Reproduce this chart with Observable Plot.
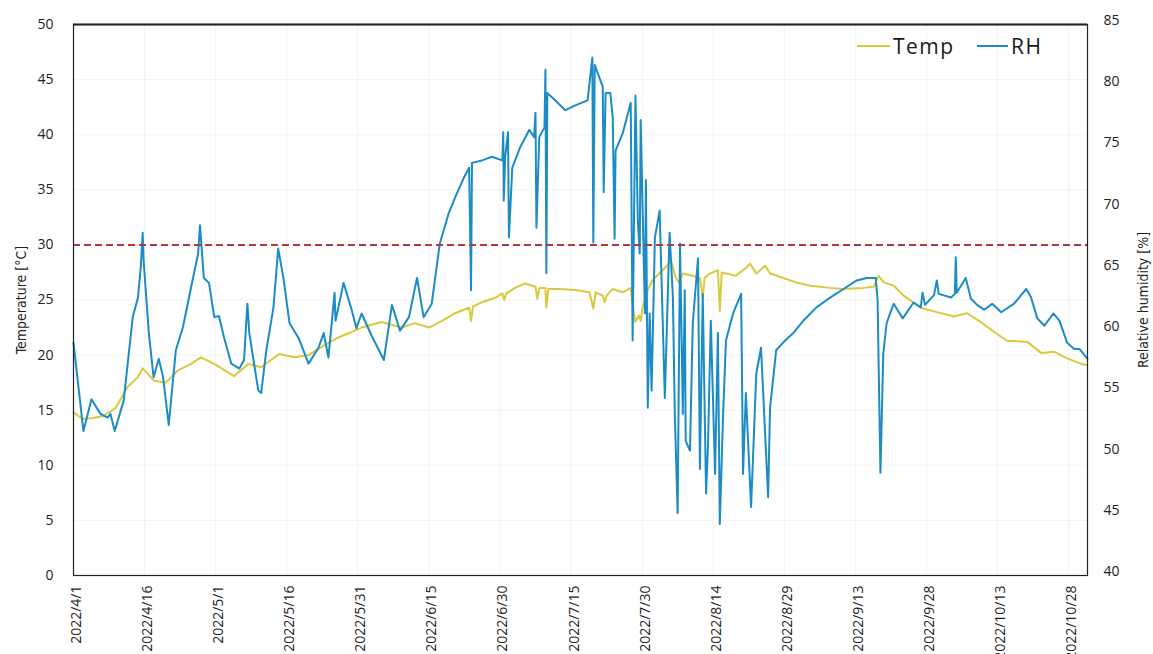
<!DOCTYPE html>
<html><head><meta charset="utf-8">
<script src="https://cdn.jsdelivr.net/npm/d3@7"></script>
<script src="https://cdn.jsdelivr.net/npm/@observablehq/plot@0.6"></script>
<style>
body{margin:0;background:#fff;}
#wrap{position:relative;width:1153px;height:654px;overflow:hidden;}
.lg{position:absolute;font-family:"Open Sans",sans-serif;font-size:21px;line-height:21px;color:#1a1a1a;letter-spacing:1.5px;white-space:nowrap;}
.ll{position:absolute;height:2px;}
</style></head><body><div id="wrap"></div>
<script>
// ---- data ----
const startDate = "2022-04-01";
const endDate = "2022-11-01";
const xTickLabels = ["2022/4/1","2022/4/16","2022/5/1","2022/5/16","2022/5/31","2022/6/15","2022/6/30","2022/7/15","2022/7/30","2022/8/14","2022/8/29","2022/9/13","2022/9/28","2022/10/13","2022/10/28"];
const tempTicks = [0,5,10,15,20,25,30,35,40,45,50];
const rhTicks = [40,45,50,55,60,65,70,75,80,85];
const refLine = 30; // dashed threshold on the temperature axis
const seriesNames = ["Temp","RH"];

// days since 2022-04-01 / temperature °C
const tDay = [0,1.9,4.2,6.4,8.9,11.4,13.6,14.6,15.7,16.9,19.5,22.0,24.8,26.9,29.7,33.9,36.9,39.6,43.4,46.6,49.6,53.0,55.9,58.7,60.8,65.0,69.3,72.0,75.0,77.8,80.5,83.5,83.9,84.3,86.2,89.0,90.5,90.9,91.3,93.2,95.3,97.5,97.9,98.3,99.6,99.8,100.2,102.5,105.9,108.9,109.7,110.2,111.7,112.1,112.5,113.8,115.9,117.6,118.2,118.6,119.3,119.7,120.1,121.2,122.2,124.8,126.1,127.1,127.8,128.6,130.7,132.2,132.8,133.2,134.3,136.0,136.4,136.8,139.8,141.9,142.8,144.1,146.0,147.0,149.8,152.5,155.5,159.7,162.5,166.7,168.9,169.9,171.0,173.1,175.2,178.8,182.2,185.8,188.6,191.5,194.3,197.0,201.3,204.2,207.0,209.7,212.7,214.0];
const tVal = [14.8,14.2,14.3,14.5,15.2,17.1,18.0,18.8,18.3,17.7,17.5,18.6,19.2,19.8,19.2,18.1,19.2,18.9,20.1,19.8,20.0,20.9,21.6,22.1,22.5,23.0,22.5,22.9,22.5,23.1,23.8,24.3,23.1,24.4,24.8,25.2,25.6,25.0,25.6,26.1,26.5,26.2,25.1,26.1,26.1,24.3,26.0,26.0,25.9,25.7,24.2,25.7,25.4,24.8,25.4,26.0,25.7,26.1,24.0,23.0,23.6,23.1,24.3,25.9,26.8,27.9,28.6,27.0,26.6,27.4,27.2,27.0,25.2,27.0,27.4,27.7,24.0,27.5,27.2,27.9,28.3,27.4,28.1,27.4,27.0,26.6,26.3,26.1,26.0,26.1,26.2,27.2,26.6,26.3,25.4,24.3,23.9,23.5,23.8,23.0,22.1,21.3,21.2,20.2,20.3,19.7,19.2,19.1];

// days since 2022-04-01 / relative humidity %
const rhDay = [0,2.1,3.8,5.7,7.2,7.8,8.7,10.6,12.5,13.6,14.2,14.6,14.8,15.9,16.9,18.0,18.9,20.1,21.6,23.1,24.8,26.3,26.7,27.5,28.6,29.7,30.7,31.8,33.3,35.0,36.0,36.7,37.1,39.0,39.6,40.7,42.2,43.2,44.3,45.6,47.5,49.6,51.7,52.8,53.8,55.1,55.3,57.0,58.7,59.7,60.8,62.9,65.5,67.2,68.9,70.8,72.5,73.9,75.6,77.3,79.2,80.9,82.4,83.5,83.9,84.1,86.2,88.3,90.5,90.7,90.8,91.1,91.7,91.9,92.6,94.3,96.2,97.2,97.5,97.7,98.3,99.4,99.6,99.8,100.0,101.7,103.8,105.9,108.5,109.5,109.7,110.0,111.7,111.9,112.3,113.3,113.8,114.2,114.4,115.9,117.6,118.0,118.6,119.1,119.5,119.7,120.6,120.8,121.2,121.6,122.0,122.7,123.7,124.8,125.8,126.5,126.9,127.5,128.0,128.6,129.0,129.2,130.1,130.7,131.8,132.2,132.8,133.5,133.9,134.5,135.4,136.0,136.4,137.1,137.7,139.2,140.9,141.3,141.9,143.0,144.1,145.1,146.6,147.0,148.3,150.2,151.9,154.0,156.8,159.7,162.5,165.3,167.4,169.3,169.7,170.3,170.9,171.6,173.1,175.0,177.3,178.8,179.2,179.7,181.6,182.2,182.6,185.2,186.0,186.2,186.4,188.3,189.4,190.7,192.2,193.9,195.8,198.5,200.0,201.1,202.1,203.4,204.9,206.8,208.1,209.7,211.2,212.3,214.0];
const rhVal = [59.0,51.8,54.4,53.2,52.9,53.2,51.8,54.3,61.1,62.7,65.2,68.0,65.7,59.8,56.2,57.7,56.2,52.3,58.4,60.3,63.5,66.3,68.6,64.3,63.9,61.1,61.2,59.4,57.3,56.9,57.6,62.2,59.8,55.1,54.9,58.4,61.9,66.7,64.3,60.6,59.4,57.3,58.6,59.8,57.8,63.1,60.8,63.9,61.7,60.2,61.4,59.6,57.6,62.1,60.0,61.1,64.3,61.1,62.2,67.1,69.6,71.2,72.5,73.3,63.3,73.7,73.9,74.2,73.9,76.2,70.6,74.2,76.2,67.6,73.3,75.0,76.4,75.8,77.8,68.4,75.8,76.6,81.3,64.7,79.4,78.8,78.0,78.4,78.8,82.3,67.2,81.7,79.9,71.3,79.4,79.4,77.4,67.5,74.7,76.1,78.6,59.2,79.2,69.0,66.3,77.2,61.4,72.3,53.7,61.4,55.1,67.6,69.8,54.5,68.0,62.7,53.2,45.1,67.1,53.2,63.3,51.0,50.2,60.6,65.9,48.7,63.0,46.7,50.5,60.8,48.3,59.8,44.2,53.2,59.2,61.4,63.0,48.3,54.9,45.6,56.5,58.6,46.4,53.7,58.4,59.2,59.8,60.8,61.9,62.7,63.4,64.1,64.3,64.3,62.5,48.4,58.1,60.6,62.2,61.0,62.3,61.9,63.1,62.1,62.9,64.1,63.0,62.7,63.0,66.0,63.1,64.3,62.6,62.1,61.7,62.2,61.5,62.2,62.9,63.4,62.7,61.0,60.4,61.4,60.8,59.0,58.5,58.5,57.7];

// ---- build ----
const t0 = new Date(startDate + "T00:00:00Z");
const t1 = new Date(endDate + "T00:00:00Z");
const toDate = d => new Date(+t0 + d * 864e5);
const parseTick = s => { const [y, m, d] = s.split("/").map(Number); return new Date(Date.UTC(y, m - 1, d)); };
const fmtTick = d => `${d.getUTCFullYear()}/${d.getUTCMonth() + 1}/${d.getUTCDate()}`;
const rhToT = v => (v - 40) * 50 / 45;
const tToRh = t => Math.round(40 + t * 45 / 50);

const xTicks = xTickLabels.map(parseTick);
const tempData = tDay.map((d, i) => ({date: toDate(d), v: tVal[i]}));
const rhData = rhDay.map((d, i) => ({date: toDate(d), v: rhVal[i]}));

const cTemp = "#d9c93c", cRH = "#1b8cc6", cRef = "#b2393c";
const narrow = "'Liberation Sans Narrow','DejaVu Sans Condensed',sans-serif";

const chart = Plot.plot({
  width: 1153, height: 654,
  marginLeft: 73, marginRight: 66, marginTop: 24, marginBottom: 79,
  style: {fontFamily: "'Open Sans',sans-serif", fontSize: "14px", color: "#222", background: "#fff"},
  x: {type: "utc", domain: [t0, t1]},
  y: {domain: [0, 50]},
  marks: [
    Plot.gridX(xTicks, {stroke: "#000", strokeOpacity: 0.05}),
    Plot.gridY(tempTicks, {stroke: "#000", strokeOpacity: 0.05}),
    Plot.axisX(xTicks, {tickRotate: -90, tickSize: 0, tickPadding: 10, dx: 3, tickFormat: fmtTick, label: null}),
    Plot.axisY(tempTicks, {anchor: "left", tickSize: 0, tickPadding: 20, label: null}),
    Plot.axisY(rhTicks.map(rhToT), {anchor: "right", tickSize: 0, tickPadding: 16, dy: -4, tickFormat: tToRh, label: null}),
    Plot.text(["Temperature [°C]"], {frameAnchor: "left", textAnchor: "middle", dx: -52, rotate: -90, fontSize: 14, fontFamily: narrow, fill: "#222"}),
    Plot.text(["Relative humidity [%]"], {frameAnchor: "right", textAnchor: "middle", dx: 56, rotate: -90, fontSize: 14, fontFamily: narrow, fill: "#222"}),
    Plot.line(tempData, {x: "date", y: "v", stroke: cTemp, strokeWidth: 2}),
    Plot.line(rhData, {x: "date", y: d => rhToT(d.v), stroke: cRH, strokeWidth: 2}),
    Plot.ruleY([refLine], {stroke: cRef, strokeWidth: 2, strokeDasharray: "7,4"}),
    Plot.frame({stroke: "#222", strokeWidth: 1.2}),
    Plot.ruleY([50], {stroke: "#222", strokeWidth: 2})
  ]
});
const wrap = document.getElementById("wrap");
wrap.appendChild(chart);

// legend
const legend = [
  {name: seriesNames[0], color: cTemp, lineLeft: 857, lineW: 33, textLeft: 893},
  {name: seriesNames[1], color: cRH, lineLeft: 977, lineW: 31, textLeft: 1011}
];
for (const l of legend) {
  const ln = document.createElement("div");
  ln.className = "ll"; ln.style.left = l.lineLeft + "px"; ln.style.top = "45px";
  ln.style.width = l.lineW + "px"; ln.style.background = l.color;
  wrap.appendChild(ln);
  const tx = document.createElement("div");
  tx.className = "lg"; tx.style.left = l.textLeft + "px"; tx.style.top = "36px";
  tx.textContent = l.name;
  wrap.appendChild(tx);
}
</script>
</body></html>
